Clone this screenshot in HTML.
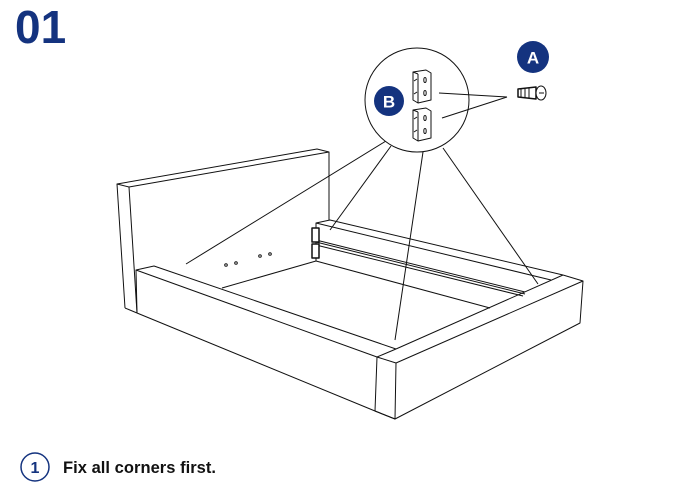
<!DOCTYPE html>
<html><head><meta charset="utf-8"><style>
html,body{margin:0;padding:0;background:#fff;width:692px;height:485px;overflow:hidden}
svg{display:block}
</style></head><body>
<svg width="692" height="485" viewBox="0 0 692 485" xmlns="http://www.w3.org/2000/svg">
<text x="15" y="43" font-family="Liberation Sans, sans-serif" font-weight="bold" font-size="46" fill="#14337f">01</text>
<g fill="none" stroke="#111" stroke-width="1" stroke-linejoin="round">
<polyline points="125,308 117,184 317,149 329,152 329,220"/>
<polyline points="117,184 129,187 329,152"/>
<line x1="129" y1="187" x2="137" y2="313"/>
<line x1="125" y1="308" x2="137" y2="313"/>
<polyline points="137,313 136,270 154,266 396,349"/>
<line x1="136" y1="270" x2="377" y2="357"/>
<polyline points="137,313 375,411 395,419 580,323 583,281 563,275"/>
<polygon points="377,357 396,363 395,419 375,411"/>
<line x1="396" y1="363" x2="583" y2="281"/>
<line x1="396" y1="349" x2="563" y2="275"/>
<line x1="377" y1="357" x2="396" y2="349"/>
<line x1="222" y1="288" x2="316" y2="261"/>
<line x1="316" y1="261" x2="490" y2="308"/>
<polyline points="316,261 316,223 330,220 563,275"/>
<line x1="316" y1="223" x2="551" y2="280"/>
<line x1="316" y1="240" x2="525" y2="292"/>
<line x1="316" y1="242" x2="525" y2="294"/>
<line x1="316" y1="245" x2="523" y2="296"/>
<rect x="312" y="228" width="7" height="14" fill="#fff" stroke-width="1.5"/>
<rect x="312" y="244" width="7" height="14" fill="#fff" stroke-width="1.5"/>
<circle cx="226" cy="265" r="1.3"/><circle cx="236" cy="263" r="1.3"/>
<circle cx="260" cy="256" r="1.3"/><circle cx="270" cy="254" r="1.3"/>
<line x1="386" y1="141" x2="186" y2="264"/>
<line x1="391" y1="146" x2="330" y2="230"/>
<line x1="423" y1="152" x2="395" y2="340"/>
<line x1="443" y1="148" x2="538" y2="284"/>
<circle cx="417" cy="100" r="52" fill="#fff"/>
<line x1="439" y1="93" x2="507" y2="97"/>
<line x1="442" y1="118" x2="507" y2="97"/>
<polygon points="413,72 426,70 431,73 431,100 418,103 413,100"/>
<line x1="418" y1="74" x2="418" y2="103"/><line x1="413" y1="72" x2="418" y2="74"/>
<polygon points="413,110 426,108 431,111 431,138 418,141 413,138"/>
<line x1="418" y1="112" x2="418" y2="141"/><line x1="413" y1="110" x2="418" y2="112"/>
<ellipse cx="425" cy="80" rx="1.2" ry="2.5"/><ellipse cx="425" cy="93" rx="1.2" ry="2.5"/>
<ellipse cx="425" cy="118" rx="1.2" ry="2.5"/><ellipse cx="425" cy="131" rx="1.2" ry="2.5"/>
<line x1="414" y1="81" x2="417" y2="79"/><line x1="414" y1="94" x2="417" y2="92"/>
<line x1="414" y1="119" x2="417" y2="117"/><line x1="414" y1="132" x2="417" y2="130"/>
<path d="M518,89 L536,87 L536,99 L518,97 Z" stroke-width="1.5"/>
<line x1="521" y1="88" x2="521" y2="98"/><line x1="525" y1="88" x2="525" y2="98"/><line x1="529" y1="88" x2="529" y2="98"/>
<ellipse cx="541" cy="93" rx="5" ry="7" fill="#fff"/>
<line x1="539" y1="93" x2="544" y2="93"/>
</g>
<circle cx="389" cy="101" r="15" fill="#14337f"/>
<text x="389" y="107.5" text-anchor="middle" font-family="Liberation Sans, sans-serif" font-weight="bold" font-size="17" fill="#fff">B</text>
<circle cx="533" cy="57" r="16" fill="#14337f"/>
<text x="533" y="63.5" text-anchor="middle" font-family="Liberation Sans, sans-serif" font-weight="bold" font-size="17" fill="#fff">A</text>
<circle cx="35" cy="467" r="14" fill="#fff" stroke="#14337f" stroke-width="1.5"/>
<text x="35" y="473" text-anchor="middle" font-family="Liberation Sans, sans-serif" font-weight="bold" font-size="16" fill="#14337f">1</text>
<text x="63" y="473" font-family="Liberation Sans, sans-serif" font-weight="bold" font-size="16.5" fill="#111" textLength="153">Fix all corners first.</text>
</svg>
</body></html>
